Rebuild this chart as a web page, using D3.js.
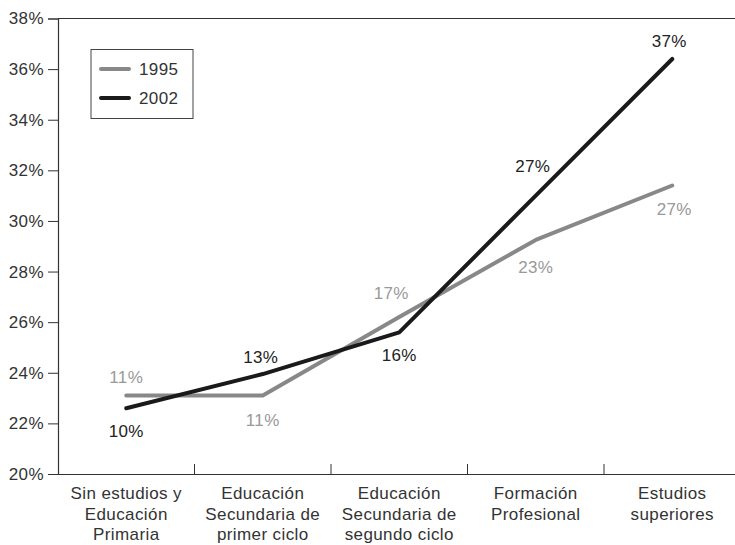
<!DOCTYPE html>
<html><head><meta charset="utf-8">
<script src="https://cdn.jsdelivr.net/npm/d3@7"></script>
<style>body{margin:0;background:#fff}svg{display:block}text{font-family:"Liberation Sans",Arial,sans-serif;letter-spacing:0.4px}</style>
</head><body><svg id="c" width="735" height="545"></svg>
<script>
const categories = [["Sin estudios y","Educación","Primaria"],["Educación","Secundaria de","primer ciclo"],["Educación","Secundaria de","segundo ciclo"],["Formación","Profesional"],["Estudios","superiores"]];
const series1995 = [23.1, 23.1, 26.2, 29.25, 31.4];
const series2002 = [22.6, 23.95, 25.6, 31.0, 36.4];
const labels1995 = ["11%","11%","17%","23%","27%"];
const labels2002 = ["10%","13%","16%","27%","37%"];
const yTicks = [20,22,24,26,28,30,32,34,36,38];
const seriesNames = ["1995","2002"];

// label placement (style, not data)
const off1995 = [[0,-19],[0,24],[-8,-24],[0,27],[2,24]];
const off2002 = [[0,23],[-2,-17],[0,23],[-3,-30],[-3,-18]];

const FS = 17;
const svg = d3.select("#c");
const x = d3.scaleBand().domain(d3.range(categories.length)).range([58, 740.5]);
const y = d3.scaleLinear().domain([20,38]).range([474, 18.5]);
const cx = i => x(i) + x.bandwidth()/2;

svg.append("line").attr("x1",58).attr("x2",735).attr("y1",y(38)).attr("y2",y(38)).attr("stroke","#333").attr("stroke-width",1.2);

const ya = svg.append("g").attr("transform","translate(58,0)")
  .call(d3.axisLeft(y).tickValues(yTicks).tickFormat(d=>d+"%").tickSize(10).tickPadding(4));
ya.select(".domain").attr("stroke","#333").attr("stroke-width",1.2);
ya.selectAll(".tick line").attr("stroke","#333");
ya.selectAll(".tick text").attr("font-size",FS).attr("fill","#333").attr("font-family","Liberation Sans, Arial, sans-serif");

const xa = svg.append("g").attr("transform","translate(0,474)")
  .call(d3.axisBottom(x).tickSize(0).tickFormat(""));
xa.select(".domain").attr("stroke","#333").attr("stroke-width",1.2);
for (let i=1;i<categories.length;i++){
  svg.append("line").attr("x1",x(i)).attr("x2",x(i)).attr("y1",464).attr("y2",474).attr("stroke","#333");
}
categories.forEach((lines,i)=>{
  const t = svg.append("text").attr("text-anchor","middle").attr("font-size",FS).attr("fill","#333");
  lines.forEach((l,j)=>t.append("tspan").attr("x",cx(i)).attr("y",499+j*20.5).text(l));
});

const line = d3.line().x((d,i)=>cx(i)).y(d=>y(d));
svg.append("path").datum(series1995).attr("d",line).attr("fill","none").attr("stroke","#888").attr("stroke-width",4).attr("stroke-linecap","round").attr("stroke-linejoin","round");
svg.append("path").datum(series2002).attr("d",line).attr("fill","none").attr("stroke","#1a1a1a").attr("stroke-width",4).attr("stroke-linecap","round").attr("stroke-linejoin","round");

function addLabels(vals, labs, offs, color){
  vals.forEach((v,i)=>{
    svg.append("text").attr("x",cx(i)+offs[i][0]).attr("y",y(v)+offs[i][1]).attr("dy","0.35em")
      .attr("text-anchor","middle").attr("font-size",FS).attr("fill",color).text(labs[i]);
  });
}
addLabels(series1995, labels1995, off1995, "#999");
addLabels(series2002, labels2002, off2002, "#222");

const lg = svg.append("g");
lg.append("rect").attr("x",91).attr("y",49.5).attr("width",102).attr("height",69).attr("fill","#fff").attr("stroke","#444").attr("stroke-width",1);
[["#888",69],["#1a1a1a",98]].forEach(([c,yy],k)=>{
  lg.append("line").attr("x1",101).attr("x2",129).attr("y1",yy).attr("y2",yy).attr("stroke",c).attr("stroke-width",4).attr("stroke-linecap","round");
  lg.append("text").attr("x",139).attr("y",yy).attr("dy","0.35em").attr("font-size",FS).attr("fill","#333").text(seriesNames[k]);
});
</script></body></html>
